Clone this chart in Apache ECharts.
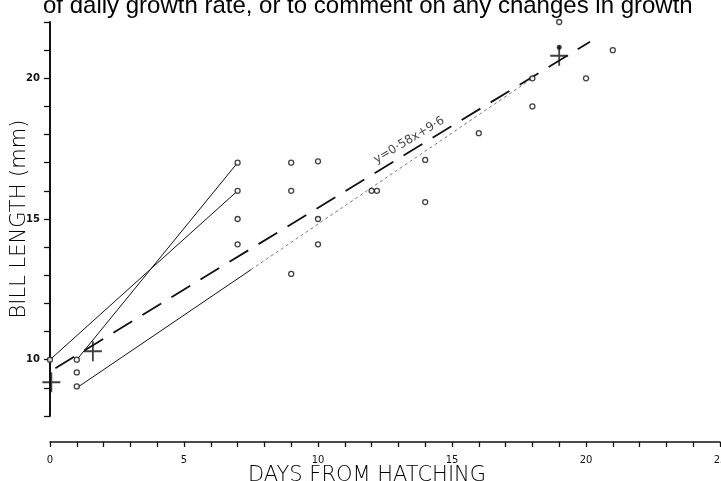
<!DOCTYPE html>
<html>
<head>
<meta charset="utf-8">
<script src="https://cdn.jsdelivr.net/npm/echarts@6/dist/echarts.min.js"></script>
<style>
  html, body { margin: 0; padding: 0; background: #fff; }
  #main { width: 721px; height: 481px; }
</style>
</head>
<body>
<div id="main"></div>
<script>
// open circles: individual birds [day, bill length mm]
var birds = [
    [0, 10], [1, 10], [1, 9.55], [1, 9.05],
    [7, 17], [7, 16], [7, 15], [7, 14.1],
    [9, 17], [9, 16], [9, 13.05],
    [10, 17.05], [10, 15], [10, 14.1],
    [12, 16], [12.2, 16],
    [14, 17.1], [14, 15.6],
    [16, 18.05],
    [18, 20], [18, 19],
    [19, 22], [20, 20], [21, 21]
];
var filledDot = [[19, 21.1]];
// crosses (means)
var means = [[0.05, 9.2], [1.6, 10.3], [19, 20.8]];
// individual growth lines
var lineA = [[0, 10], [7, 16]];
var lineB = [[1, 10], [7, 17]];
var lineCSolid = [[1, 9], [7.5, 13.2]];
var lineCDotted = [[7.5, 13.2], [18, 20]];
// fitted regression, drawn
var regression = [[0.2, 9.7], [20.15, 21.3]];
var regressionLabel = [[13.4, 17.8]];
var equationText = 'y=0·58x+9·6';
var xLabelsShown = [0, 5, 10, 15, 20, 25];
var yLabelsShown = [10, 15, 20];
var topText = 'of daily growth rate, or to comment on any changes in growth';

var ink = '#111';
var myChart = echarts.init(document.getElementById('main'));

function thinLine(data, type, color, width) {
    return {
        type: 'line',
        data: data,
        symbol: 'none',
        silent: true,
        z: 2,
        lineStyle: { color: color || ink, width: width || 1, type: type || 'solid' }
    };
}

var option = {
    backgroundColor: '#fff',
    animation: false,
    graphic: [{
        type: 'text',
        left: 43,
        top: -6,
        style: {
            text: topText,
            font: '24px "Liberation Sans", Arial, sans-serif',
            fill: '#000'
        }
    }],
    grid: {
        left: 50,
        right: 1,
        top: 22,
        bottom: 65,
        outerBoundsMode: 'none',
        containLabel: false
    },
    xAxis: {
        type: 'value',
        min: 0,
        max: 25,
        interval: 1,
        offset: 26,
        axisLine: { lineStyle: { color: ink, width: 1.5 } },
        axisTick: { length: 5, lineStyle: { color: ink, width: 1.3 } },
        splitLine: { show: false },
        axisLabel: {
            color: ink,
            fontSize: 10,
            fontFamily: 'DejaVu Sans',
            margin: 13,
            formatter: function (v) {
                return xLabelsShown.indexOf(v) >= 0 ? String(v) : '';
            }
        },
        name: 'DAYS FROM HATCHING',
        nameLocation: 'middle',
        nameGap: 23,
        nameMoveOverlap: false,
        nameTextStyle: {
            color: '#000',
            fontSize: 21,
            fontFamily: 'DejaVu Sans',
            fontWeight: 200,
            padding: [0, 36, 0, 0]
        }
    },
    yAxis: {
        type: 'value',
        min: 8,
        max: 22,
        interval: 1,
        axisLine: { lineStyle: { color: ink, width: 2 } },
        axisTick: { length: 6, lineStyle: { color: ink, width: 1.3 } },
        splitLine: { show: false },
        axisLabel: {
            color: ink,
            fontSize: 10,
            fontWeight: 'bold',
            fontFamily: 'DejaVu Sans',
            margin: 10,
            formatter: function (v) {
                return yLabelsShown.indexOf(v) >= 0 ? String(v) : '';
            }
        },
        name: 'BILL LENGTH (mm)',
        nameLocation: 'middle',
        nameGap: 20,
        nameMoveOverlap: false,
        nameTextStyle: {
            color: '#000',
            fontSize: 21,
            fontFamily: 'DejaVu Sans',
            fontWeight: 200
        }
    },
    series: [
        thinLine(lineA),
        thinLine(lineB),
        thinLine(lineCSolid),
        thinLine(lineCDotted, [3, 3], '#555', 0.8),
        thinLine(regression, [22, 12], ink, 1.8),
        {
            type: 'scatter',
            data: regressionLabel,
            symbolSize: 1,
            itemStyle: { color: 'transparent' },
            silent: true,
            label: {
                show: true,
                position: 'inside',
                rotate: 31,
                formatter: equationText,
                color: ink,
                fontSize: 12,
                fontFamily: 'DejaVu Sans'
            },
            z: 3
        },
        {
            type: 'scatter',
            data: birds,
            symbol: 'circle',
            symbolSize: 5,
            itemStyle: { color: '#fff', borderColor: ink, borderWidth: 1.3 },
            z: 4
        },
        {
            type: 'scatter',
            data: filledDot,
            symbol: 'circle',
            symbolSize: 5,
            itemStyle: { color: ink },
            z: 4
        },
        {
            type: 'scatter',
            data: means,
            symbol: 'path://M9,0h2v20h-2zM0,9h20v2h-20z',
            symbolSize: [18, 20],
            itemStyle: { color: ink },
            z: 5
        }
    ]
};
myChart.setOption(option);
</script>
</body>
</html>
